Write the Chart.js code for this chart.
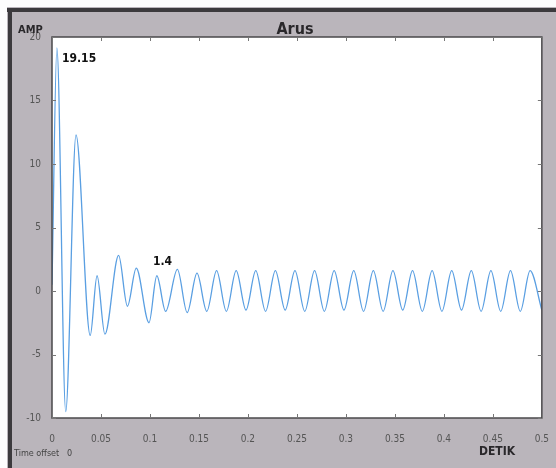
<!DOCTYPE html>
<html>
<head>
<meta charset="utf-8">
<script src="https://cdn.jsdelivr.net/npm/chart.js@4"></script>
<style>
  html, body { margin: 0; padding: 0; background: #fff; }
  #wrap { width: 556px; height: 468px; }
</style>
</head>
<body>
<div id="wrap"><canvas id="arusChart" width="556" height="468"></canvas></div>
<script>
// waveform: time (s) of each extreme and its amplitude (A)
const times = [0, 0.005, 0.014, 0.0245, 0.039, 0.046, 0.054, 0.068, 0.077, 0.086, 0.099, 0.107, 0.116, 0.128, 0.138,
  0.148, 0.158, 0.168, 0.178, 0.188, 0.198, 0.208, 0.218, 0.228, 0.238, 0.248, 0.258, 0.268, 0.278, 0.288, 0.298,
  0.308, 0.318, 0.328, 0.338, 0.348, 0.358, 0.368, 0.378, 0.388, 0.398, 0.408, 0.418, 0.428, 0.438, 0.448, 0.458,
  0.468, 0.478, 0.488, 0.5];
const amps = [0.5, 19.15, -9.5, 12.3, -3.5, 1.2, -3.4, 2.8, -1.2, 1.8, -2.5, 1.2, -1.6, 1.7, -1.7,
  1.4, -1.6, 1.6, -1.6, 1.6, -1.5, 1.6, -1.6, 1.6, -1.5, 1.6, -1.6, 1.6, -1.6, 1.6, -1.5,
  1.6, -1.6, 1.6, -1.6, 1.6, -1.5, 1.6, -1.6, 1.6, -1.6, 1.6, -1.5, 1.6, -1.6, 1.6, -1.6,
  1.6, -1.6, 1.6, -1.5];
const xTicks = [0, 0.05, 0.1, 0.15, 0.2, 0.25, 0.3, 0.35, 0.4, 0.45, 0.5];
const yTicks = [-10, -5, 0, 5, 10, 15, 20];
const notes = [
  { text: '19.15', t: 0.0102, v: 18.3 },
  { text: '1.4', t: 0.103, v: 2.3 }
];

const narrow = "'DejaVu Sans Condensed', 'Liberation Sans Narrow', 'Liberation Sans', sans-serif";

// gray panel, frame, plot box, inner tick marks and labels
const scopePlugin = {
  id: 'scope',
  beforeDraw(chart) {
    const { ctx, chartArea: a } = chart;
    ctx.save();
    ctx.fillStyle = '#bab5bb';
    ctx.fillRect(0, 0, chart.width, chart.height);
    ctx.fillStyle = '#fdfdfd';
    ctx.fillRect(0, 0, chart.width, 7);
    ctx.fillRect(0, 0, 7, chart.height);
    ctx.fillStyle = '#3c3a3d';
    ctx.fillRect(7, 8, chart.width - 7, 4);
    ctx.fillRect(8, 8, 4, chart.height - 8);
    ctx.fillStyle = '#ffffff';
    ctx.fillRect(a.left, a.top, a.right - a.left, a.bottom - a.top);
    ctx.restore();
  },
  afterDatasetsDraw(chart) {
    const { ctx, chartArea: a, scales } = chart;
    ctx.save();
    ctx.strokeStyle = '#4a484b';
    ctx.lineWidth = 1.5;
    ctx.strokeRect(a.left, a.top, a.right - a.left, a.bottom - a.top);
    ctx.lineWidth = 1;
    ctx.strokeStyle = '#777';
    ctx.beginPath();
    xTicks.forEach(t => {
      const x = Math.round(scales.x.getPixelForValue(t)) + 0.5;
      ctx.moveTo(x, a.bottom); ctx.lineTo(x, a.bottom - 4);
      ctx.moveTo(x, a.top); ctx.lineTo(x, a.top + 4);
    });
    yTicks.forEach(v => {
      const y = Math.round(scales.y.getPixelForValue(v)) + 0.5;
      ctx.moveTo(a.left, y); ctx.lineTo(a.left + 4, y);
      ctx.moveTo(a.right, y); ctx.lineTo(a.right - 4, y);
    });
    ctx.stroke();

    ctx.fillStyle = '#111';
    ctx.textBaseline = 'middle';
    ctx.font = 'bold 12px ' + narrow;
    notes.forEach(n => {
      ctx.textAlign = 'left';
      ctx.fillText(n.text, scales.x.getPixelForValue(n.t), scales.y.getPixelForValue(n.v));
    });

    ctx.fillStyle = '#2a282b';
    ctx.textAlign = 'center';
    ctx.font = 'bold 16px ' + narrow;
    ctx.fillText('Arus', 295, 30);
    ctx.textAlign = 'left';
    ctx.font = 'bold 11px ' + narrow;
    ctx.fillText('AMP', 18, 30);
    ctx.textAlign = 'center';
    ctx.font = 'bold 12px ' + narrow;
    ctx.fillText('DETIK', 497, 452);
    ctx.textAlign = 'left';
    ctx.font = '9px ' + narrow;
    ctx.fillStyle = '#444';
    ctx.fillText('Time offset   0', 14, 454);
    ctx.restore();
  }
};

new Chart(document.getElementById('arusChart').getContext('2d'), {
  type: 'line',
  data: {
    datasets: [{
      label: 'Arus',
      data: times.map((t, i) => ({ x: t, y: amps[i] })),
      borderColor: '#5a9fe2',
      borderWidth: 1.3,
      pointRadius: 0,
      fill: false,
      cubicInterpolationMode: 'monotone'
    }]
  },
  options: {
    responsive: false,
    animation: false,
    layout: { padding: { left: 0, right: 14, top: 37, bottom: 0 } },
    plugins: {
      legend: { display: false },
      tooltip: { enabled: false }
    },
    scales: {
      x: {
        type: 'linear',
        min: 0,
        max: 0.5,
        afterFit: s => { s.height = 50; },
        afterBuildTicks: s => { s.ticks = xTicks.map(v => ({ value: v })); },
        grid: { display: false },
        border: { display: false },
        ticks: {
          padding: 7,
          color: '#555',
          font: { size: 10, family: narrow },
          maxRotation: 0,
          callback: v => String(parseFloat(v.toFixed(2)))
        }
      },
      y: {
        min: -10,
        max: 20,
        afterFit: s => { s.width = 52; },
        afterBuildTicks: s => { s.ticks = yTicks.map(v => ({ value: v })); },
        grid: { display: false },
        border: { display: false },
        ticks: {
          padding: 3,
          color: '#555',
          font: { size: 10, family: narrow }
        }
      }
    }
  },
  plugins: [scopePlugin]
});
</script>
</body>
</html>
